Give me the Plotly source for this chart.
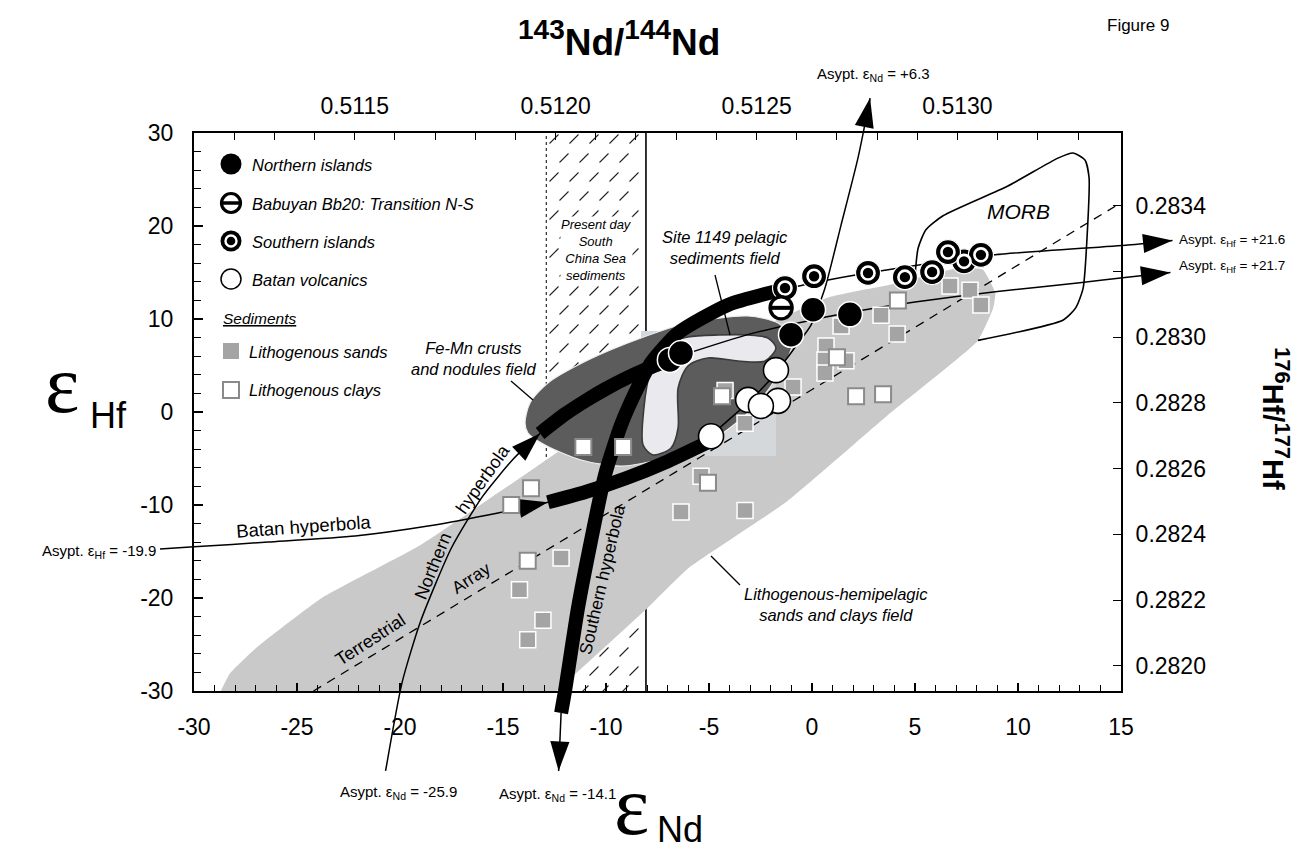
import plotly.graph_objects as go

W, H = 1302, 855
L, R, T, B = 186, 1113, 125, 683          # plot box (pixels)
XMIN, XMAX, YMIN, YMAX = -30.0, 15.0, -30.0, 30.0

# ---------------- data (eNd, eHf) ----------------
northern_nd = [-6.9, -6.36, -1.02, 0.05, 1.84]
northern_hf = [5.6, 6.34, 8.3, 11.0, 10.5]
babuyan_nd = [-1.5]
babuyan_hf = [11.2]
southern_nd = [7.38, -1.31, 0.1, 2.72, 4.51, 5.83, 6.6, 8.2]
southern_hf = [16.2, 13.33, 14.6, 14.95, 14.5, 15.05, 17.2, 16.9]
batan_nd = [-4.9, -3.1, -1.65, -1.75, -2.48]
batan_hf = [-2.6, 1.3, 1.2, 4.5, 0.65]
sands_nd = [6.7, 7.67, 8.2, 3.35, 4.13, 1.41, 0.68, 0.63, 1.65, 0.63, -0.92, -3.25,
            -4.22, -5.39, -6.36, -3.25, -12.18, -14.2, -13.06, -13.8]
sands_hf = [13.55, 13.1, 11.5, 10.4, 8.4, 9.25, 7.1, 5.6, 5.5, 4.2, 2.7, -1.2,
            2.3, -6.9, -10.75, -10.6, -15.7, -19.1, -22.4, -24.5]
clays_nd = [4.17, 1.21, 2.14, 3.45, -4.37, -5.05, -11.1, -9.17, -13.64, -14.6, -13.8]
clays_hf = [12.0, 5.9, 1.7, 1.9, 1.7, -7.6, -3.76, -3.76, -8.2, -10.0, -16.0]

# fields
litho_nd = [-28.7, -28.25, -27.0, -23.8, -19.0, -13.45, -9.9, -5.05, 0.78, 3.83, 7.2, 8.3,
            8.9, 8.8, 8.06, 3.7, -1.2, -6.0, -8.0, -12.4]
litho_hf = [-30, -28.1, -25.4, -20.0, -14.3, -6.0, -0.6, 6.3, 12.3, 13.7, 15.5, 15.3,
            12.8, 11.2, 7.7, -0.3, -9.6, -16.8, -21.1, -30]
femn_nd = [-13.93, -13.69, -12.82, -10.87, -8.30, -6.02, -3.11, -1.65, -0.92, -1.17, -1.89,
           -2.86, -4.32, -5.53, -7.48, -9.27, -11.21, -12.96, -13.79, -13.93]
femn_hf = [-1.18, 0.97, 3.12, 5.59, 7.96, 9.57, 10.32, 9.57, 7.96, 5.81, 3.12,
           0.43, -2.26, -3.87, -5.16, -5.81, -5.16, -3.55, -2.26, -1.18]
site_nd = [-7.14, -6.02, -4.56, -3.11, -2.14, -1.75, -2.28, -3.59, -5.05, -6.02, -6.5,
           -6.5, -6.84, -7.72, -8.2, -8.16, -7.86, -7.14]
site_hf = [7.2, 8.06, 8.28, 8.28, 7.96, 6.88, 5.48, 5.48, 5.81, 4.95, 2.58,
           -1.72, -3.87, -4.62, -3.55, 0.43, 4.19, 7.2]
pale_box_nd = [-8.3, -1.75]
pale_box_hf = [-4.73, 8.71]
morb_nd = [5.0, 5.15, 5.53, 6.36, 9.51, 11.94, 12.67, 13.25, 13.45, 13.35, 13.16, 12.8, 12.2, 8.06]
morb_hf = [14.6, 17.6, 19.6, 21.1, 24.3, 27.3, 27.85, 27.1, 25.2, 18.7, 13.3, 11.2, 9.9, 7.7]
scs_nd = [-12.9, -8.06]            # present-day South China Sea sediments
array_nd = [-24.2, 15.0]           # terrestrial array
array_hf = [-30.0, 22.5]

# hyperbolae
north_thin1_nd = [-20.7, -19.9, -19.0, -17.5, -16.0, -14.5, -13.2]
north_thin1_hf = [-38.6, -29.1, -22.5, -14.6, -9.1, -5.05, -2.3]
north_thick_nd = [-13.2, -12.0, -11.0, -10.0, -9.0, -8.0, -6.6]
north_thick_hf = [-2.3, -0.25, 1.2, 2.5, 3.65, 4.66, 5.9]
north_thin2_nd = [-6.6, -3.0, 0.0, 2.0, 5.0, 9.0, 13.0, 15.3, 17.4]
north_thin2_hf = [5.9, 8.4, 9.9, 10.77, 11.83, 12.96, 13.9, 14.5, 15.0]
south_thin1_nd = [-12.18, -12.3]
south_thin1_hf = [-32.37, -38.6]
south_thick_nd = [-12.18, -11.99, -11.36, -10.73, -10.05, -9.27, -8.59, -7.82, -6.5, -4.08, -1.31]
south_thick_hf = [-32.37, -30.0, -21.08, -13.87, -6.77, -1.4, 2.04, 5.27, 8.49, 11.51, 13.23]
south_thin2_nd = [-1.31, 0.78, 4.0, 8.88, 15.34, 17.5]
south_thin2_hf = [13.23, 14.2, 15.4, 16.9, 17.96, 18.45]
batan_thin1_nd = [-31.65, -30.0, -26.4, -22.18, -18.64, -15.24, -12.82]
batan_thin1_hf = [-14.73, -14.5, -13.98, -13.33, -12.26, -10.86, -9.7]
batan_thick_nd = [-12.82, -11.0, -9.0, -7.0, -5.0]
batan_thick_hf = [-9.7, -8.6, -7.1, -5.3, -3.2]
batan_thin2_nd = [-5.0, -4.9, -3.11, -1.75, -0.68, -0.05, 0.63, 1.41, 2.23, 2.82]
batan_thin2_hf = [-3.2, -2.6, 1.0, 4.2, 7.4, 9.35, 13.33, 20.1, 27.3, 33.76]

# axes ticks
end_ticks = [-30, -25, -20, -15, -10, -5, 0, 5, 10, 15]
ehf_ticks = [-30, -20, -10, 0, 10, 20, 30]
nd_ratio_ticks = [0.5112, 0.5113, 0.5114, 0.5115, 0.5116, 0.5117, 0.5118, 0.5119, 0.5120,
                  0.5121, 0.5122, 0.5123, 0.5124, 0.5125, 0.5126, 0.5127, 0.5128, 0.5129,
                  0.5130, 0.5131, 0.5132, 0.5133]
nd_ratio_labels = ["0.5115", "0.5120", "0.5125", "0.5130"]
hf_ratio_ticks = [0.2820, 0.2822, 0.2824, 0.2826, 0.2828, 0.2830, 0.2832, 0.2834]
hf_ratio_labels = ["0.2820", "0.2822", "0.2824", "0.2826", "0.2828", "0.2830", "", "0.2834"]
CHUR_ND, CHUR_HF = 0.512638, 0.282772

# ---------------- geometry helpers ----------------
sx = (XMAX - XMIN) / (R - L)
sy = (YMAX - YMIN) / (B - T)
X3 = [XMIN - L * sx, XMAX + (W - R) * sx]
Y3 = [YMIN - (H - B) * sy, YMAX + T * sy]


def dx(px):
    return XMIN + (px - L) * sx


def dy(py):
    return YMAX - (py - T) * sy


def pxp(px):
    return px / W


def pyp(py):
    return 1 - py / H


FONT = "Liberation Sans, Arial, sans-serif"
SERIF = "Liberation Serif, Times New Roman, DejaVu Serif, serif"

fig = go.Figure()

# ---------- main (clipped) axes: fields ----------
# hatch of the present-day South China Sea sediment band (short slanted strokes)
hx, hy = [], []
row = 0
py = T + 6
while py < B:
    px = 546 + (row % 2) * 10
    while px < 636:
        hx.append(dx(px))
        hy.append(dy(py))
        px += 20
    py += 19
    row += 1
fig.add_trace(go.Scatter(x=hx, y=hy, mode="markers",
                         marker=dict(symbol="line-ne", size=9, line=dict(color="#222", width=1.1)),
                         hoverinfo="skip"))
fig.add_trace(go.Scatter(x=[scs_nd[0], scs_nd[0]], y=[YMIN, YMAX], mode="lines",
                         line=dict(color="black", width=1, dash="dot"), hoverinfo="skip"))
fig.add_trace(go.Scatter(x=[scs_nd[1], scs_nd[1]], y=[YMIN, YMAX], mode="lines",
                         line=dict(color="black", width=1.6), hoverinfo="skip"))
fig.add_trace(go.Scatter(x=litho_nd, y=litho_hf, mode="lines", fill="toself",
                         fillcolor="#c9c9c9", line=dict(width=0, shape="spline", smoothing=0.4),
                         hoverinfo="skip"))
fig.add_trace(go.Scatter(x=[pale_box_nd[0], pale_box_nd[1], pale_box_nd[1], pale_box_nd[0], pale_box_nd[0]],
                         y=[pale_box_hf[0], pale_box_hf[0], pale_box_hf[1], pale_box_hf[1], pale_box_hf[0]],
                         mode="lines", fill="toself", fillcolor="#d4d8db", line=dict(width=0),
                         hoverinfo="skip"))
fig.add_trace(go.Scatter(x=femn_nd, y=femn_hf, mode="lines", fill="toself",
                         fillcolor="#5c5c5c", line=dict(color="#eeeeee", width=1.2, shape="spline", smoothing=0.8),
                         hoverinfo="skip"))
fig.add_trace(go.Scatter(x=site_nd, y=site_hf, mode="lines", fill="toself",
                         fillcolor="#e9e9ee", line=dict(color="#3a3a3a", width=1.6, shape="spline", smoothing=0.8),
                         hoverinfo="skip"))
fig.add_trace(go.Scatter(x=morb_nd, y=morb_hf, mode="lines",
                         line=dict(color="black", width=1.6, shape="spline", smoothing=0.6),
                         hoverinfo="skip"))
fig.add_trace(go.Scatter(x=array_nd, y=array_hf, mode="lines",
                         line=dict(color="black", width=1.3, dash="9px,7px"), hoverinfo="skip"))

# dummy trace for the ratio axes
fig.add_trace(go.Scatter(x=[None], y=[None], xaxis="x2", yaxis="y2", hoverinfo="skip"))

# ---------- overlay (unclipped) axes: curves, arrows, points ----------
def line3(xs, ys, width):
    fig.add_trace(go.Scatter(x=xs, y=ys, xaxis="x3", yaxis="y3", mode="lines",
                             line=dict(color="black", width=width, shape="spline", smoothing=0.6),
                             hoverinfo="skip"))


# pointer lines
line3([dx(503), dx(525)], [dy(373), dy(392)], 1.3)
line3([dx(707), dx(722)], [dy(267), dy(327)], 1.3)
line3([dx(703), dx(732)], [dy(548), dy(577)], 1.3)

thin = [(north_thin1_nd, north_thin1_hf), (north_thin2_nd, north_thin2_hf),
        (south_thin1_nd, south_thin1_hf), (south_thin2_nd, south_thin2_hf),
        (batan_thin1_nd, batan_thin1_hf), (batan_thin2_nd, batan_thin2_hf)]
for xs, ys in thin:
    line3(xs, ys, 1.5)
for xs, ys in [(batan_thick_nd, batan_thick_hf), (north_thick_nd, north_thick_hf),
               (south_thick_nd, south_thick_hf)]:
    line3(xs, ys, 14)

# arrow heads (tip at the last point of each curve)
for xs, ys in thin:
    fig.add_trace(go.Scatter(x=xs[-2:], y=ys[-2:], xaxis="x3", yaxis="y3", mode="markers",
                             marker=dict(symbol=["circle", "arrow"], size=[1, 31], color="black",
                                         opacity=[0, 1], angleref="previous",
                                         line=dict(width=0)),
                             hoverinfo="skip"))

# sediments
fig.add_trace(go.Scatter(x=sands_nd, y=sands_hf, xaxis="x3", yaxis="y3", mode="markers",
                         marker=dict(symbol="square", size=16, color="#a4a4a4",
                                     line=dict(color="white", width=1.5)), hoverinfo="skip"))
fig.add_trace(go.Scatter(x=clays_nd, y=clays_hf, xaxis="x3", yaxis="y3", mode="markers",
                         marker=dict(symbol="square", size=16, color="white",
                                     line=dict(color="#8a8a8a", width=2)), hoverinfo="skip"))
# volcanics
fig.add_trace(go.Scatter(x=batan_nd, y=batan_hf, xaxis="x3", yaxis="y3", mode="markers",
                         marker=dict(symbol="circle", size=25, color="white",
                                     line=dict(color="black", width=1.6)), hoverinfo="skip"))
fig.add_trace(go.Scatter(x=northern_nd, y=northern_hf, xaxis="x3", yaxis="y3", mode="markers",
                         marker=dict(symbol="circle", size=25, color="black",
                                     line=dict(color="white", width=1.5)), hoverinfo="skip"))
fig.add_trace(go.Scatter(x=southern_nd, y=southern_hf, xaxis="x3", yaxis="y3", mode="markers",
                         marker=dict(symbol="circle", size=25, color="black",
                                     line=dict(color="white", width=1.2)), hoverinfo="skip"))
fig.add_trace(go.Scatter(x=southern_nd, y=southern_hf, xaxis="x3", yaxis="y3", mode="markers",
                         marker=dict(symbol="circle", size=13, color="black",
                                     line=dict(color="white", width=2.6)), hoverinfo="skip"))
fig.add_trace(go.Scatter(x=babuyan_nd, y=babuyan_hf, xaxis="x3", yaxis="y3", mode="markers",
                         marker=dict(symbol="circle", size=22, color="white",
                                     line=dict(color="black", width=3.4)), hoverinfo="skip"))
fig.add_trace(go.Scatter(x=babuyan_nd, y=babuyan_hf, xaxis="x3", yaxis="y3", mode="markers",
                         marker=dict(symbol="line-ew", size=15, color="black",
                                     line=dict(color="black", width=4)), hoverinfo="skip"))

# ---------- legend (drawn inside plot) ----------
lx = dx(223)
fig.add_trace(go.Scatter(x=[lx], y=[dy(156)], xaxis="x3", yaxis="y3", mode="markers",
                         marker=dict(symbol="circle", size=21, color="black"), hoverinfo="skip"))
fig.add_trace(go.Scatter(x=[lx], y=[dy(195)], xaxis="x3", yaxis="y3", mode="markers",
                         marker=dict(symbol="circle", size=19, color="white",
                                     line=dict(color="black", width=3.2)), hoverinfo="skip"))
fig.add_trace(go.Scatter(x=[lx], y=[dy(195)], xaxis="x3", yaxis="y3", mode="markers",
                         marker=dict(symbol="line-ew", size=13, line=dict(color="black", width=3.5)),
                         hoverinfo="skip"))
fig.add_trace(go.Scatter(x=[lx], y=[dy(233)], xaxis="x3", yaxis="y3", mode="markers",
                         marker=dict(symbol="circle", size=21, color="black"), hoverinfo="skip"))
fig.add_trace(go.Scatter(x=[lx], y=[dy(233)], xaxis="x3", yaxis="y3", mode="markers",
                         marker=dict(symbol="circle", size=11, color="black",
                                     line=dict(color="white", width=2.4)), hoverinfo="skip"))
fig.add_trace(go.Scatter(x=[lx], y=[dy(271)], xaxis="x3", yaxis="y3", mode="markers",
                         marker=dict(symbol="circle", size=20, color="white",
                                     line=dict(color="black", width=1.5)), hoverinfo="skip"))
fig.add_trace(go.Scatter(x=[lx], y=[dy(343)], xaxis="x3", yaxis="y3", mode="markers",
                         marker=dict(symbol="square", size=16, color="#a4a4a4"), hoverinfo="skip"))
fig.add_trace(go.Scatter(x=[lx], y=[dy(382)], xaxis="x3", yaxis="y3", mode="markers",
                         marker=dict(symbol="square", size=16, color="white",
                                     line=dict(color="#8a8a8a", width=2)), hoverinfo="skip"))


def txt(text, px, py, size, xanchor="center", italic=False, angle=0, family=FONT,
        bold=False, bg=None, color="black"):
    if italic:
        text = "<i>" + text.replace("<br>", "</i><br><i>") + "</i>"
    if bold:
        text = "<b>" + text + "</b>"
    fig.add_annotation(x=pxp(px), y=pyp(py), xref="paper", yref="paper", text=text,
                       showarrow=False, xanchor=xanchor, yanchor="middle", textangle=angle,
                       font=dict(family=family, size=size, color=color),
                       bgcolor=bg, borderpad=0)


# legend texts
txt("Northern islands", 243, 157, 16.5, "left", italic=True)
txt("Babuyan Bb20: Transition N-S", 243, 196, 16.5, "left", italic=True)
txt("Southern islands", 243, 234, 16.5, "left", italic=True)
txt("Batan volcanics", 243, 272, 16.5, "left", italic=True)
txt("<u>Sediments</u>", 214, 311, 15.5, "left", italic=True)
txt("Lithogenous sands", 240, 344, 16.5, "left", italic=True)
txt("Lithogenous clays", 240, 382, 16.5, "left", italic=True)

# field labels
txt("Present day<br>South<br>China Sea<br>sediments", 588, 242, 13, italic=True, bg="white")
txt("Site 1149 pelagic<br>sediments field", 653, 239, 16.5, "left", italic=True)
txt("Fe-Mn crusts<br>and nodules field", 402, 351, 16.5, "left", italic=True)
txt("MORB", 1010, 203, 21, italic=True)
txt("Lithogenous-hemipelagic<br>sands and clays field", 735, 596, 16.5, "left", italic=True)
txt("Batan hyperbola", 295, 518, 18.5, angle=-4)
txt("Northern", 425, 558, 18, angle=-68)
txt("hyperbola", 475, 471, 18, angle=-55)
txt("Terrestrial", 362, 632, 18, angle=-33)
txt("Array", 463, 570, 17.5, angle=-33)
txt("Southern hyperbola", 594, 572, 17.5, angle=-77)

# asymptote labels
txt("Asypt. ε<sub>Nd</sub> = +6.3", 865, 67, 15)
txt("Asypt. ε<sub>Nd</sub> = -25.9", 390, 784, 15)
txt("Asypt. ε<sub>Nd</sub> = -14.1", 549, 786, 15)
txt("Asypt. ε<sub>Hf</sub> = +21.6", 1170, 232, 13.5, "left")
txt("Asypt. ε<sub>Hf</sub> = +21.7", 1170, 258, 13.5, "left")
txt("Asypt. ε<sub>Hf</sub> = -19.9", 149, 543, 15, "right")

# axis titles
txt("<sup><span style='font-size:28px'>143</span></sup>Nd/"
    "<sup><span style='font-size:28px'>144</span></sup>Nd", 611, 30, 37, bold=True)
txt("<sup><span style='font-size:22px'>176</span></sup>Hf/"
    "<sup><span style='font-size:22px'>177</span></sup>Hf", 1268, 410, 29, bold=True, angle=90)
txt("Figure 9", 1130, 18, 17)
txt("ε", 54, 377, 82, family=SERIF)
txt("Hf", 100, 407, 36)
txt("ε", 623, 797, 84, family=SERIF)
txt("Nd", 672, 821, 36)

# ---------- axes ----------
tickfont = dict(family=FONT, size=23, color="black")
nd_vals = [(r / CHUR_ND - 1) * 1e4 for r in nd_ratio_ticks]
nd_text = [("%.4f" % r) if ("%.4f" % r) in nd_ratio_labels else "" for r in nd_ratio_ticks]
hf_vals = [(r / CHUR_HF - 1) * 1e4 for r in hf_ratio_ticks]
common = dict(showline=True, linewidth=2, linecolor="black", showgrid=False, zeroline=False,
              tickfont=tickfont, fixedrange=True, automargin=False, tickcolor="black")

fig.update_layout(
    width=W, height=H, autosize=False,
    margin=dict(l=0, r=0, t=0, b=0, pad=0, autoexpand=False),
    paper_bgcolor="white", plot_bgcolor="rgba(0,0,0,0)",
    showlegend=False,
    xaxis=dict(domain=[L / W, R / W], range=[XMIN, XMAX], anchor="y",
               tickmode="array", tickvals=end_ticks, ticktext=[str(v) for v in end_ticks],
               ticks="inside", ticklen=8, tickwidth=1.5,
               minor=dict(tickmode="linear", tick0=-30, dtick=1, ticks="inside", ticklen=6,
                          tickwidth=1.2, tickcolor="black"),
               ticklabelstandoff=14, **common),
    yaxis=dict(domain=[1 - B / H, 1 - T / H], range=[YMIN, YMAX], anchor="x",
               tickmode="array", tickvals=ehf_ticks, ticktext=[str(v) for v in ehf_ticks],
               ticks="inside", ticklen=9, tickwidth=1.5,
               minor=dict(tickmode="linear", tick0=-30, dtick=2, ticks="inside", ticklen=7,
                          tickwidth=1.2, tickcolor="black"),
               ticklabelstandoff=14, **common),
    xaxis2=dict(overlaying="x", side="top", anchor="y", range=[XMIN, XMAX],
                tickmode="array", tickvals=nd_vals, ticktext=nd_text,
                ticks="inside", ticklen=7, tickwidth=1.3, ticklabelstandoff=8, **common),
    yaxis2=dict(overlaying="y", side="right", anchor="x", range=[YMIN, YMAX],
                tickmode="array", tickvals=hf_vals, ticktext=hf_ratio_labels,
                ticks="inside", ticklen=8, tickwidth=1.3, ticklabelstandoff=8, **common),
    xaxis3=dict(domain=[0, 1], range=X3, anchor="y3", visible=False, fixedrange=True),
    yaxis3=dict(domain=[0, 1], range=Y3, anchor="x3", visible=False, fixedrange=True),
)

fig.write_html("out.html")
